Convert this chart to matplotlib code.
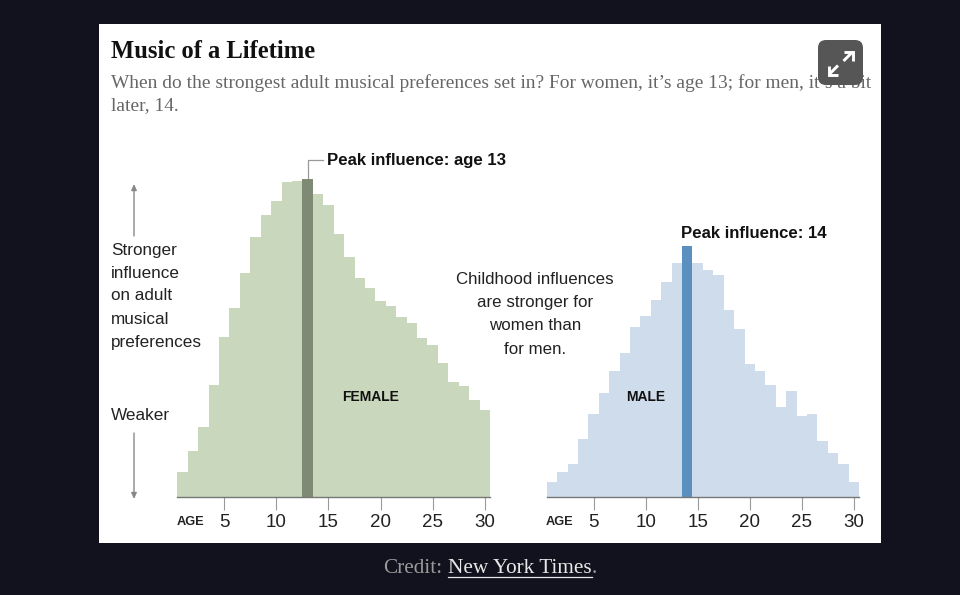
import matplotlib
matplotlib.use("Agg")
import matplotlib.pyplot as plt
from matplotlib.patches import Rectangle, FancyBboxPatch

ages = list(range(1, 31))
female = [25, 46, 70, 112, 160, 189, 224, 260, 282, 296, 315, 316, 318, 303, 292,
          263, 240, 219, 209, 196, 191, 180, 174, 159, 152, 134, 115, 111, 97, 87]
male = [15, 25, 33, 58, 83, 104, 126, 144, 170, 181, 197, 215, 234, 251, 234,
        227, 222, 187, 168, 133, 126, 112, 90, 106, 81, 83, 56, 44, 33, 15]
tick_ages = [5, 10, 15, 20, 25, 30]
female_peak = 13
male_peak = 14

W, H = 960, 595
BG = "#12111e"
SANS = "Liberation Sans"
SERIF = "Liberation Serif"

fig = plt.figure(figsize=(W / 100, H / 100), dpi=100, facecolor=BG)

# overlay in pixel coordinates for panel and annotations
ov = fig.add_axes([0, 0, 1, 1], zorder=0)
ov.set_xlim(0, W)
ov.set_ylim(H, 0)
ov.axis("off")
ov.add_patch(Rectangle((99, 24), 782, 519, fc="white", ec="none"))


def panel(x0, x1, vals, peak, light, dark):
    base = 497
    ax = fig.add_axes([x0 / W, 1 - base / H, (x1 - x0) / W, 330 / H], zorder=1)
    ax.patch.set_alpha(0)
    colors = [dark if a == peak else light for a in ages]
    ax.bar(ages, vals, width=1.0, color=colors, linewidth=0)
    ax.set_xlim(0.5, 30.5)
    ax.set_ylim(0, 330)
    for s in ["top", "left", "right"]:
        ax.spines[s].set_visible(False)
    ax.spines["bottom"].set_color("#777777")
    ax.spines["bottom"].set_linewidth(1.0)
    ax.set_yticks([])
    ax.set_xticks(tick_ages)
    ax.set_xticklabels([str(t) for t in tick_ages], family=SANS, fontsize=13.5, color="#222222")
    ax.tick_params(axis="x", length=9, width=0.8, color="#999999", pad=3.5, direction="out")
    return ax


panel(177.4, 490, female, female_peak, "#c9d7bc", "#7f8a75")
panel(546.8, 859, male, male_peak, "#cfdcec", "#5b8fbf")

# header
ov.text(111, 52, "Music of a Lifetime", family=SERIF, fontsize=17.7, fontweight="bold",
        color="#111111", va="center", ha="left")
ov.text(111, 83, "When do the strongest adult musical preferences set in? For women, it\u2019s age 13; for men, it\u2019s a bit",
        family=SERIF, fontsize=13.98, color="#666666", va="center", ha="left")
ov.text(111, 106, "later, 14.", family=SERIF, fontsize=13.98, color="#666666", va="center", ha="left")

# peak labels
ov.plot([308, 308, 323], [179, 159.5, 159.5], color="#999999", lw=0.9)
ov.text(327, 160, "Peak influence: age 13", family=SANS, fontsize=12.06, fontweight="bold",
        color="#111111", va="center", ha="left")
ov.text(681, 233, "Peak influence: 14", family=SANS, fontsize=12.06, fontweight="bold",
        color="#111111", va="center", ha="left")

# left scale labels
for y, t in zip([250, 273, 296, 319, 342],
                ["Stronger", "influence", "on adult", "musical", "preferences"]):
    ov.text(111, y, t, family=SANS, fontsize=12.3, color="#222222", va="center", ha="left")
ov.text(111, 416, "Weaker", family=SANS, fontsize=12.3, color="#222222", va="center", ha="left")
ov.annotate("", xy=(134, 184), xytext=(134, 236),
            arrowprops=dict(arrowstyle="-|>,head_width=0.16,head_length=0.35", color="#888888", lw=1, shrinkA=0, shrinkB=0))
ov.annotate("", xy=(134, 499), xytext=(134, 433),
            arrowprops=dict(arrowstyle="-|>,head_width=0.16,head_length=0.35", color="#888888", lw=1, shrinkA=0, shrinkB=0))

# centre note
for y, t in zip([280, 303, 326, 349],
                ["Childhood influences", "are stronger for", "women than", "for men."]):
    ov.text(535, y, t, family=SANS, fontsize=12.2, color="#222222", va="center", ha="center")

# group labels
fig_top = fig.add_axes([0, 0, 1, 1], zorder=3)
fig_top.set_xlim(0, W)
fig_top.set_ylim(H, 0)
fig_top.axis("off")
fig_top.text(370.5, 397, "FEMALE", family=SANS, fontsize=10, fontweight="bold", color="#111111", va="center", ha="center")
fig_top.text(645.5, 397, "MALE", family=SANS, fontsize=10, fontweight="bold", color="#111111", va="center", ha="center")
fig_top.text(190.5, 522, "AGE", family=SANS, fontsize=9.2, fontweight="bold", color="#222222", va="center", ha="center")
fig_top.text(559.5, 522, "AGE", family=SANS, fontsize=9.2, fontweight="bold", color="#222222", va="center", ha="center")

# expand button
fig_top.add_patch(FancyBboxPatch((825, 47), 31, 31, boxstyle="round,pad=7,rounding_size=8",
                                 fc="#565656", ec="none"))
for path in ([(843.5, 61), (852.5, 52)], [(844, 52), (852.5, 52), (852.5, 61)],
             [(838, 65.5), (829, 74.5)], [(837.5, 74.5), (829, 74.5), (829, 66)]):
    fig_top.plot([p[0] for p in path], [p[1] for p in path], color="white", lw=2.1,
                 solid_capstyle="butt", solid_joinstyle="miter")

# credit
fig_top.text(383, 568.5, "Credit:", family=SERIF, fontsize=15.3, color="#9a9a9a", va="center", ha="left")
fig_top.text(448, 568.5, "New York Times", family=SERIF, fontsize=15.3, color="#e8e8e8", va="center", ha="left")
fig_top.plot([448, 592], [577, 577], color="#e8e8e8", lw=0.9)
fig_top.text(592, 568.5, ".", family=SERIF, fontsize=15.3, color="#9a9a9a", va="center", ha="left")

fig.savefig("out.png", dpi=100, facecolor=BG)
